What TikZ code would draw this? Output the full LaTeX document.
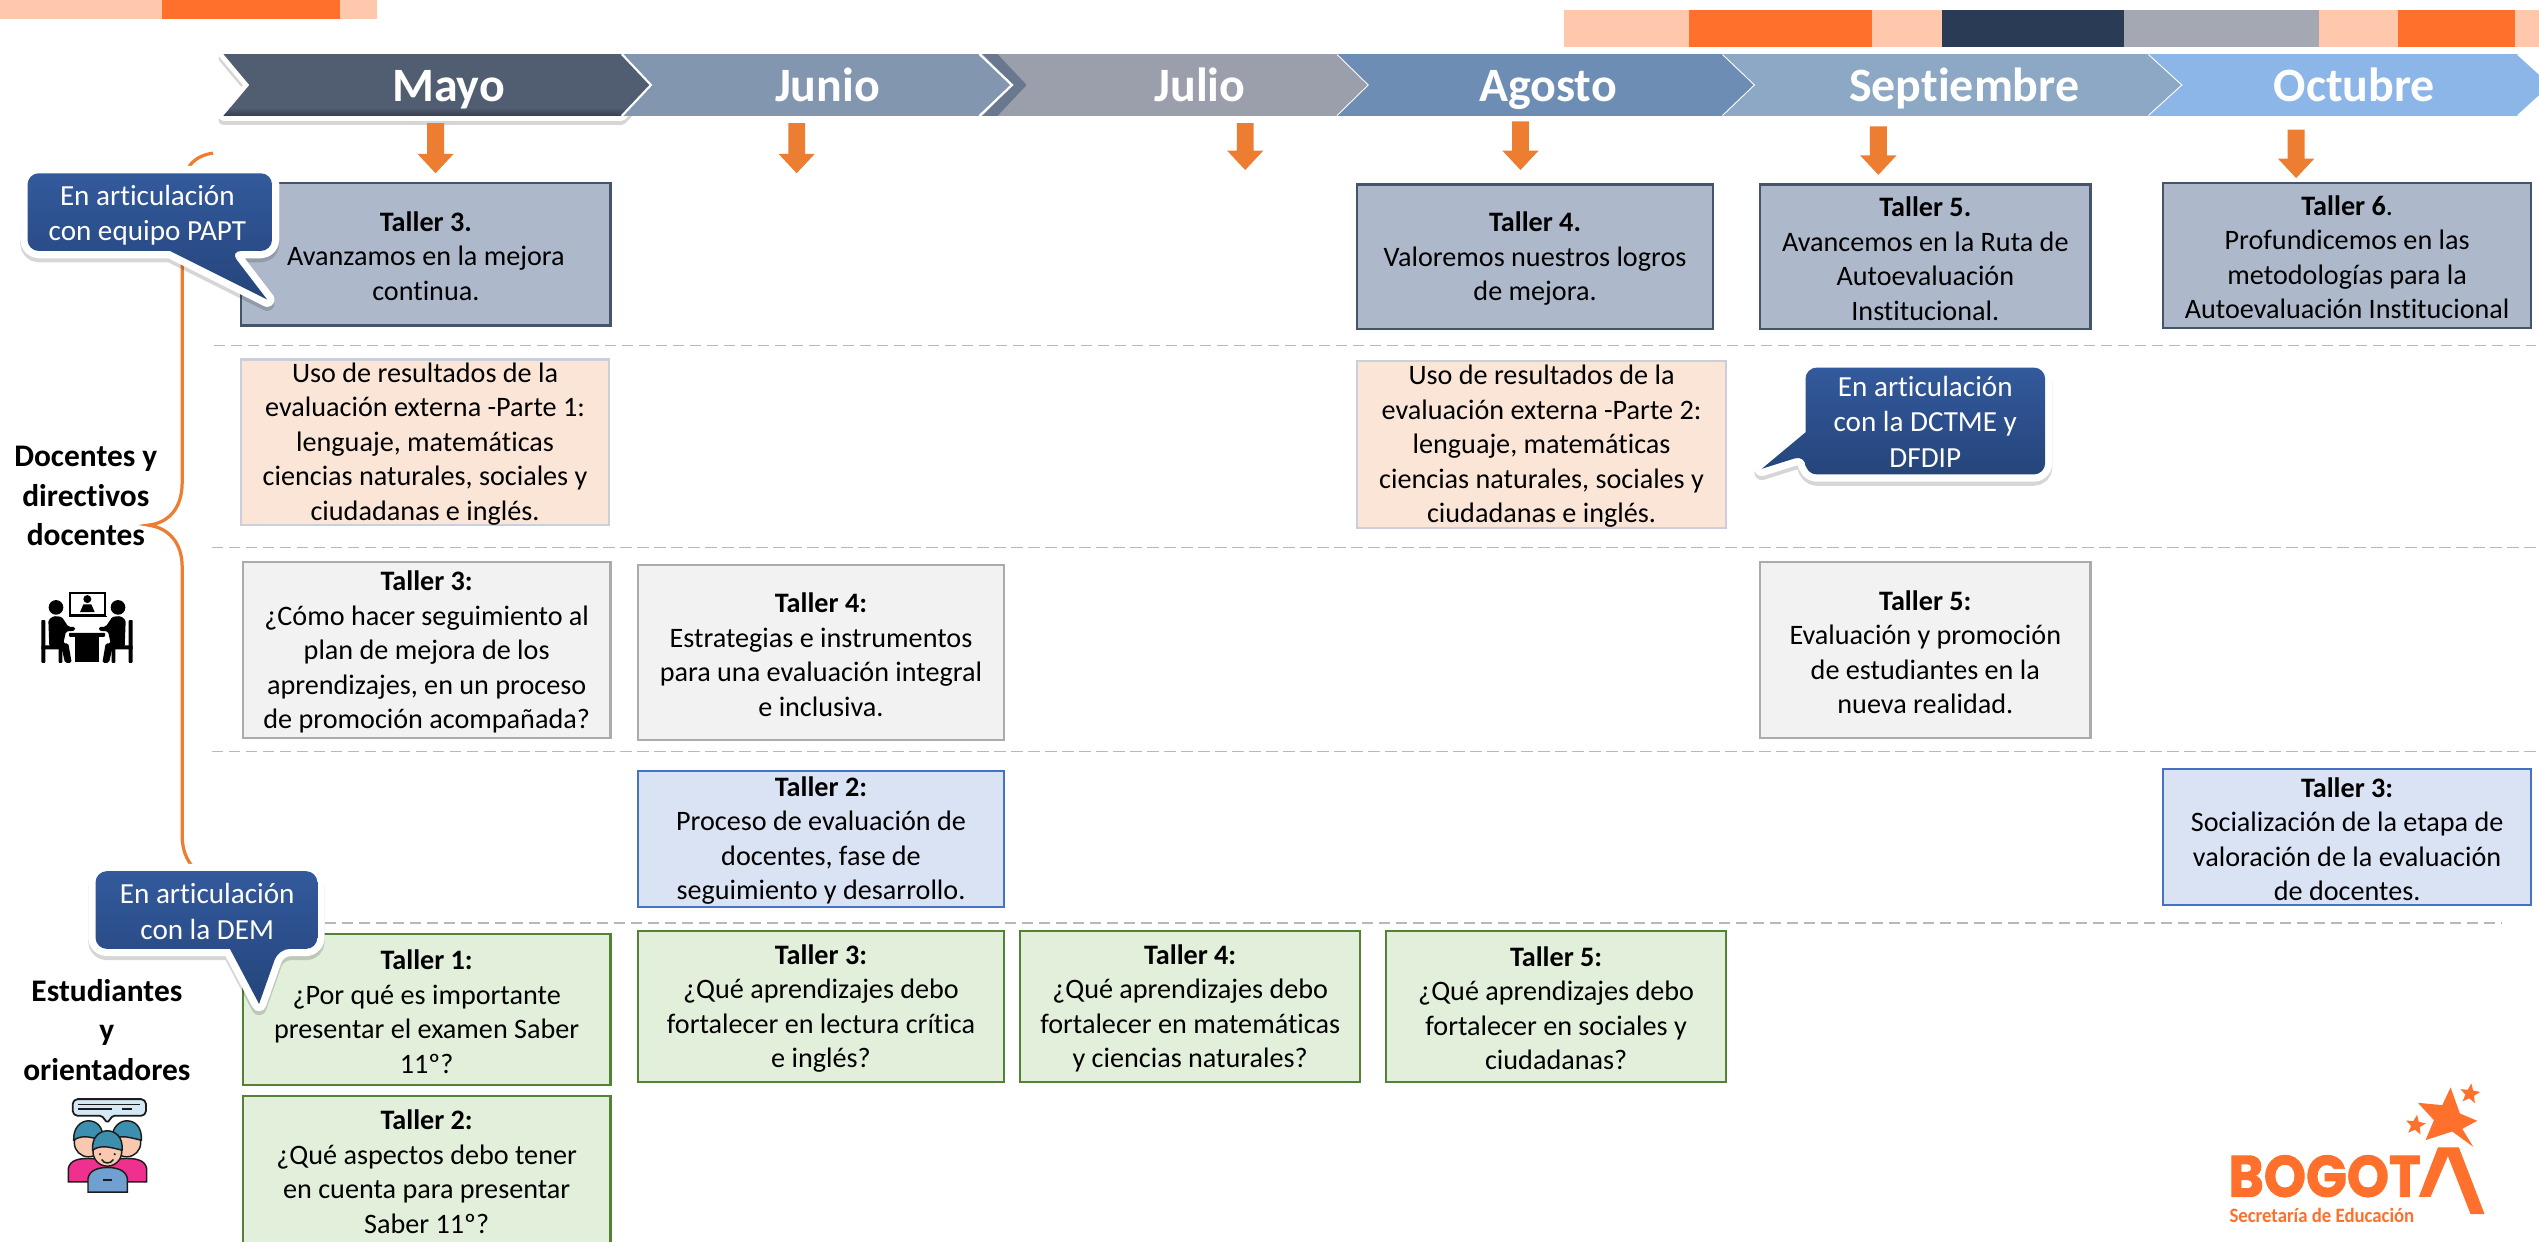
\documentclass[tikz,border=0pt]{standalone}
\usepackage{fontspec}
\setmainfont[Ligatures=NoCommon]{Carlito}
\newfontfamily\logofont[BoldFeatures={FakeBold=1.6}]{Poppins}
\usetikzlibrary{shadows,shapes.geometric,calc}
\definecolor{bandorange}{HTML}{FF702C}
\definecolor{bandlight}{HTML}{FFC8AD}
\definecolor{bandnavy}{HTML}{2A3B55}
\definecolor{bandgray}{HTML}{A3A8B3}
\definecolor{arroworange}{HTML}{ED7D31}
\definecolor{calloutblue}{HTML}{2C4F8C}
\definecolor{callouttop}{HTML}{335A9C}
\definecolor{calloutlow}{HTML}{25457A}
\definecolor{skin}{HTML}{F8C9B0}
\definecolor{hairblue}{HTML}{3D8FB0}
\definecolor{iconink}{HTML}{1C1C1C}
\definecolor{mjun}{HTML}{8296B0}
\definecolor{mjul}{HTML}{9A9FAB}
\definecolor{mjulband}{HTML}{69788F}
\definecolor{mago}{HTML}{6D8DB5}
\definecolor{msep}{HTML}{8CA8C4}
\definecolor{moct}{HTML}{8DB6E8}
\definecolor{mmay}{HTML}{515D71}
\definecolor{mmaydark}{HTML}{363E4E}
\definecolor{slatefill}{HTML}{ADB9CA}
\definecolor{slateline}{HTML}{44546A}
\definecolor{peachfill}{HTML}{FBE5D6}
\definecolor{peachline}{HTML}{CBCEDB}
\definecolor{grayfill}{HTML}{F2F2F2}
\definecolor{grayline}{HTML}{ABABAB}
\definecolor{bluefill}{HTML}{DAE3F3}
\definecolor{blueline}{HTML}{4472C4}
\definecolor{greenfill}{HTML}{E2EFDA}
\definecolor{greenline}{HTML}{548235}
\definecolor{bubblefill}{HTML}{D5E8F5}
\definecolor{pinkbody}{HTML}{F0308F}
\definecolor{bluebody}{HTML}{6FA0D0}
\tikzset{
  x=1pt,y=-1pt,
  month/.style={font=\fontsize{29.6}{32}\selectfont\bfseries,text=white,inner sep=0,anchor=base},
  sidelabel/.style={font=\fontsize{19.4}{24.4}\selectfont\bfseries,align=center,inner sep=0},
  softshadow/.style={preaction={draw=black,draw opacity=.16,line width=#1,line join=round,transform canvas={yshift=-2.5pt}}},
  calloutedge/.style={softshadow=9pt,draw=white,fill=white,line width=9pt,line join=round},
  calloutbody/.style={top color=callouttop,bottom color=calloutlow,middle color=calloutblue},
  callouttext/.style={font=\fontsize{18}{22}\selectfont,text=white,align=center,inner sep=0},
  sep/.style={draw=black!28,line width=.9pt,dash pattern=on 7pt off 3.5pt},
  star5/.style={star,star points=5,star point ratio=2.3,fill=bandorange,inner sep=0,draw=none,minimum size=#1},
}
% box: name, x0, y0, x1, y1, fill, border, text
\newcommand{\tbox}[8]{%
  \path[draw=#7,fill=#6,line width=1.35pt] (#2,#3) rectangle (#4,#5);
  \node[inner sep=0,align=center,font=\fontsize{17.4}{21.3}\selectfont] (#1) at ({(#2+#4)/2},{(#3+#5)/2+1.2}) {#8};
}
\newcommand{\downarr}[3]{% x, top, tip
  \fill[arroworange] ({#1-5.2},#2) -- ({#1+5.2},#2) -- ({#1+5.2},{#3-12}) -- ({#1+11.2},{#3-12}) -- (#1,#3) -- ({#1-11.2},{#3-12}) -- ({#1-5.2},{#3-12}) -- cycle;
}
% chevron: previous shoulder, previous tip, shoulder, tip, colour
\newcommand{\chev}[5]{%
  \fill[#5] (#1,33.4) -- (#3,33.4) -- (#4,52.5) -- (#3,71.6) -- (#1,71.6) -- (#2,52.5) -- cycle;
  \draw[white,line width=1.3pt,line join=miter] (#3,33.4) -- (#4,52.5) -- (#3,71.6);
}
\begin{document}
\begin{tikzpicture}
\useasboundingbox (0,0) rectangle (1568,767);
\fill[white] (0,0) rectangle (1568,767);

% colour bands
\fill[bandlight] (0,0) rectangle (100,12);
\fill[bandorange] (100,0) rectangle (210,12);
\fill[bandlight] (210,0) rectangle (233,12);
\fill[bandlight] (966,6) rectangle (1043,29);
\fill[bandorange] (1043,6) rectangle (1156,29);
\fill[bandlight] (1156,6) rectangle (1199,29);
\fill[bandnavy] (1199,6) rectangle (1312,29);
\fill[bandgray] (1312,6) rectangle (1432,29);
\fill[bandlight] (1432,6) rectangle (1481,29);
\fill[bandorange] (1481,6) rectangle (1553,29);
\fill[bandlight] (1553,6) rectangle (1568,29);

% month ribbon
\path[softshadow=6pt,draw=white,fill=white,line width=6pt,line join=round]
  (138,33.4) -- (384,33.4) -- (402,52.5) -- (384,71.6) -- (138,71.6) -- (154,52.5) -- cycle;
\chev{384}{402}{605}{625}{mjun}
\chev{605}{625}{826}{845.5}{mjul}
\fill[mjulband] (607,33.4) -- (616,33.4) -- (634,52.5) -- (616,71.6) -- (607,71.6) -- (625,52.5) -- cycle;
\draw[white,line width=1.3pt] (605,33.4) -- (625,52.5) -- (605,71.6);
\chev{826}{845.5}{1064}{1084}{mago}
\chev{1064}{1084}{1327}{1348}{msep}
\chev{1327}{1348}{1555}{1576}{moct}
\begin{scope}
  \clip (138,33.4) -- (384,33.4) -- (402,52.5) -- (384,71.6) -- (138,71.6) -- (154,52.5) -- cycle;
  \fill[mmay] (130,30) rectangle (410,75);
  \shade[top color=mmay,bottom color=mmaydark] (130,66.5) rectangle (410,72);
\end{scope}
\draw[white,line width=1.3pt] (384,33.4) -- (402,52.5) -- (384,71.6);
\node[month] (mayo) at (277,62.5) {Mayo};
\node[month] (junio) at (511,62.5) {Junio};
\node[month] (julio) at (741,62.5) {Julio};
\node[month] (agosto) at (956,62.5) {Agosto};
\node[month] (septiembre) at (1213,62.5) {Septiembre};
\node[month] (octubre) at (1454,62.5) {Octubre};

% arrows
\downarr{269}{76}{107}
\downarr{492}{76}{107}
\downarr{769}{76}{105}
\downarr{939}{75}{105}
\downarr{1160}{78}{108}
\downarr{1418}{80}{110}

% brace
\draw[arroworange,line width=2pt] (131.6,94.6) .. controls (120,96) and (112.5,104) .. (112.5,118)
  -- (112.5,298) .. controls (112.5,314) and (104,323) .. (91.6,324.3)
  .. controls (104,326) and (112.5,335) .. (112.5,350)
  -- (112.5,516) .. controls (112.5,526) and (116,534) .. (124,540);

% separators
\draw[sep] (132,213.5) -- (1566,213.5);
\draw[sep] (131,338) -- (1566,338);
\draw[sep] (131,464) -- (1566,464);
\draw[sep] (190,570) -- (1545,570);

% row 1
\tbox{ta}{149}{113}{377}{201}{slatefill}{slateline}{\textbf{Taller 3.}\\Avanzamos en la mejora\\continua.}
\tbox{tb}{838}{114}{1058}{203}{slatefill}{slateline}{\textbf{Taller 4.}\\Valoremos nuestros logros\\de mejora.}
\tbox{tc}{1087}{114}{1291}{203}{slatefill}{slateline}{\textbf{Taller 5.}\\Avancemos en la Ruta de\\Autoevaluación\\Institucional.}
\tbox{td}{1336}{113}{1563}{202.5}{slatefill}{slateline}{\textbf{Taller 6}.\\Profundicemos en las\\metodologías para la\\Autoevaluación Institucional}
% row 2
\tbox{pa}{149}{222}{376}{324}{peachfill}{peachline}{Uso de resultados de la\\evaluación externa -Parte 1:\\lenguaje, matemáticas\\ciencias naturales, sociales y\\ciudadanas e inglés.}
\tbox{pb}{838}{223}{1066}{326}{peachfill}{peachline}{Uso de resultados de la\\evaluación externa -Parte 2:\\lenguaje, matemáticas\\ciencias naturales, sociales y\\ciudadanas e inglés.}
% row 3
\tbox{ga}{150}{347}{377}{456}{grayfill}{grayline}{\textbf{Taller 3:}\\¿Cómo hacer seguimiento al\\plan de mejora de los\\aprendizajes, en un proceso\\de promoción acompañada?}
\tbox{gb}{394}{349}{620}{457}{grayfill}{grayline}{\textbf{Taller 4:}\\Estrategias e instrumentos\\para una evaluación integral\\e inclusiva.}
\tbox{gc}{1087}{347}{1291}{456}{grayfill}{grayline}{\textbf{Taller 5:}\\Evaluación y promoción\\de estudiantes en la\\nueva realidad.}
% row 4
\tbox{ba}{394}{476}{620}{560}{bluefill}{blueline}{\textbf{Taller 2:}\\Proceso de evaluación de\\docentes, fase de\\seguimiento y desarrollo.}
\tbox{bb}{1336}{475}{1563}{559}{bluefill}{blueline}{\textbf{Taller 3:}\\Socialización de la etapa de\\valoración de la evaluación\\de docentes.}
% row 5
\tbox{ea}{150}{577}{377}{670}{greenfill}{greenline}{\textbf{Taller 1:}\\¿Por qué es importante\\presentar el examen Saber\\11º?}
\tbox{eb}{394}{575}{620}{668}{greenfill}{greenline}{\textbf{Taller 3:}\\¿Qué aprendizajes debo\\fortalecer en lectura crítica\\e inglés?}
\tbox{ec}{630}{575}{840}{668}{greenfill}{greenline}{\textbf{Taller 4:}\\¿Qué aprendizajes debo\\fortalecer en matemáticas\\y ciencias naturales?}
\tbox{ed}{856}{575}{1066}{668}{greenfill}{greenline}{\textbf{Taller 5:}\\¿Qué aprendizajes debo\\fortalecer en sociales y\\ciudadanas?}
\tbox{ee}{150}{677}{377}{768}{greenfill}{greenline}{\textbf{Taller 2:}\\¿Qué aspectos debo tener\\en cuenta para presentar\\Saber 11º?}

% side labels
\node[sidelabel] (doc) at (53,306.5) {Docentes y\\directivos\\docentes};
\node[sidelabel] (est) at (66,636) {Estudiantes\\y\\orientadores};

% meeting icon (drawn in zoom units)
\begin{scope}[x=.2059pt,y=-.2059pt,shift={(0pt,-259.4pt)}]
  \fill[black] (262,537) circle (12);
  \draw[black,line width=1.1pt] (210,518) rectangle (316,584);
  \draw[black,line width=.7pt] (206,590) -- (320,590);
  \fill[black] (240,576) -- (250,553) -- (274,553) -- (284,576) -- cycle;
  \foreach \s/\o in {1/0,-1/522}{
    \begin{scope}[xshift=\o*.2059pt,x=\s*.2059pt]
      \fill[black] (168,562) circle (22);
      \fill[black,rounded corners=1pt] (145,600) -- (160,588) -- (185,590) -- (205,620) -- (225,620) -- (225,632) -- (198,634) -- (190,670) -- (205,670) -- (215,728) -- (195,728) -- (185,685) -- (148,680) -- cycle;
      \fill[black,rounded corners=.5pt] (124,600) rectangle (136,728);
      \fill[black,rounded corners=.5pt] (124,676) rectangle (188,688);
      \fill[black,rounded corners=.5pt] (176,680) rectangle (187,728);
    \end{scope}
  }
  \fill[black,rounded corners=.5pt] (207,638) rectangle (315,650);
  \fill[black] (225,648) rectangle (297,726);
\end{scope}

% students icon (drawn in zoom units)
\begin{scope}[x=.2059pt,y=-.2059pt,shift={(0pt,-518.8pt)}]
  \draw[iconink,line width=1.1pt,fill=bubblefill,rounded corners=1pt] (305,827) -- (228,827) -- (218,817) -- (218,787) -- (228,777) -- (428,777) -- (438,787) -- (438,817) -- (428,827) -- (338,827) -- (322,848) -- cycle;
  \draw[iconink,line width=1pt] (235,793) -- (420,793) (235,806) -- (335,806) (365,806) -- (395,806);
  % back persons
  \foreach \c in {265,380}{
    \draw[iconink,line width=.9pt,fill=pinkbody] (\c-60,1025) -- (\c-60,985) .. controls (\c-55,960) and (\c-30,955) .. (\c,955) .. controls (\c+30,955) and (\c+55,960) .. (\c+60,985) -- (\c+60,1025) -- cycle;
    \draw[iconink,line width=.9pt,fill=skin] (\c,908) circle (42);
    \draw[iconink,line width=.9pt,fill=hairblue] (\c-44,900) .. controls (\c-46,860) and (\c-20,842) .. (\c,842) .. controls (\c+25,842) and (\c+46,860) .. (\c+44,900) .. controls (\c+15,895) and (\c-15,880) .. (\c-44,900) -- cycle;
  }
  % front person
  \draw[iconink,line width=.9pt,fill=bluebody] (264,1056) -- (264,1015) .. controls (268,990) and (295,982) .. (322,982) .. controls (350,982) and (378,990) .. (382,1015) -- (382,1056) -- cycle;
  \draw[iconink,line width=1pt] (310,1020) -- (335,1020);
  \draw[iconink,line width=.9pt,fill=skin] (322,935) circle (43);
  \draw[iconink,line width=.9pt,fill=hairblue] (278,930) .. controls (274,890) and (300,872) .. (322,872) .. controls (345,872) and (370,890) .. (366,930) .. controls (340,925) and (305,910) .. (278,930) -- cycle;
  \draw[iconink,line width=.9pt] (305,958) .. controls (312,972) and (332,972) .. (340,958);
  \fill[iconink] (300,942) circle (3.5) (344,942) circle (3.5);
\end{scope}

% logo (drawn in zoom units)
\begin{scope}[x=.2059pt,y=-.2059pt,shift={(1346.6pt,-654.7pt)}]
  \fill[bandorange] (810,82) -- (838,160) -- (890,182) -- (845,206) -- (878,260) -- (815,214) -- (735,240) -- (760,180) -- (712,128) -- (785,135) -- cycle;
  \fill[bandorange] (715,410) -- (772,262) -- (835,262) -- (912,462) -- (870,462) -- (802,288) -- (750,410) -- cycle;
  \node[star5=13pt,rotate=-8] (stara) at (868,101) {};
  \node[star5=13pt,rotate=-8] (starb) at (705,195) {};
  \node[anchor=west,inner sep=0,text=bandorange,font=\fontsize{36}{36}\selectfont\logofont\bfseries] (bogot) at (143,348) {\scalebox{.92}[1]{BOGOT}};
  \node[anchor=west,inner sep=0,text=bandorange,font=\fontsize{12.6}{14}\selectfont\bfseries] (secre) at (146,465) {\scalebox{.92}[1]{Secretaría de Educación}};
\end{scope}

% callouts
\path[calloutedge] [rounded corners=7pt] (17,107) -- (168,107) -- (168,155) -- (142,155) [sharp corners] -- (165,185) -- (105,155) [rounded corners=7pt] -- (17,155) -- cycle;
\path[calloutbody] [rounded corners=7pt] (17,107) -- (168,107) -- (168,155) -- (142,155) [sharp corners] -- (165,185) -- (105,155) [rounded corners=7pt] -- (17,155) -- cycle;
\node[callouttext] (ca) at (91,133) {En articulación\\con equipo PAPT};
\path[calloutedge] [rounded corners=7pt] (1115,227) -- (1263,227) -- (1263,293) -- (1115,293) -- (1115,281) [sharp corners] -- (1088,289.5) -- (1115,267) [rounded corners=7pt] -- cycle;
\path[calloutbody] [rounded corners=7pt] (1115,227) -- (1263,227) -- (1263,293) -- (1115,293) -- (1115,281) [sharp corners] -- (1088,289.5) -- (1115,267) [rounded corners=7pt] -- cycle;
\node[callouttext] (cb) at (1189,260.5) {En articulación\\con la DCTME y\\DFDIP};
\path[calloutedge] [rounded corners=7pt] (59,538) -- (196,538) -- (196,586) -- (172,586) [sharp corners] -- (160,620) -- (142,586) [rounded corners=7pt] -- (59,586) -- cycle;
\path[calloutbody] [rounded corners=7pt] (59,538) -- (196,538) -- (196,586) -- (172,586) [sharp corners] -- (160,620) -- (142,586) [rounded corners=7pt] -- (59,586) -- cycle;
\node[callouttext] (cc) at (128,563) {En articulación\\con la DEM};
\end{tikzpicture}
\end{document}
